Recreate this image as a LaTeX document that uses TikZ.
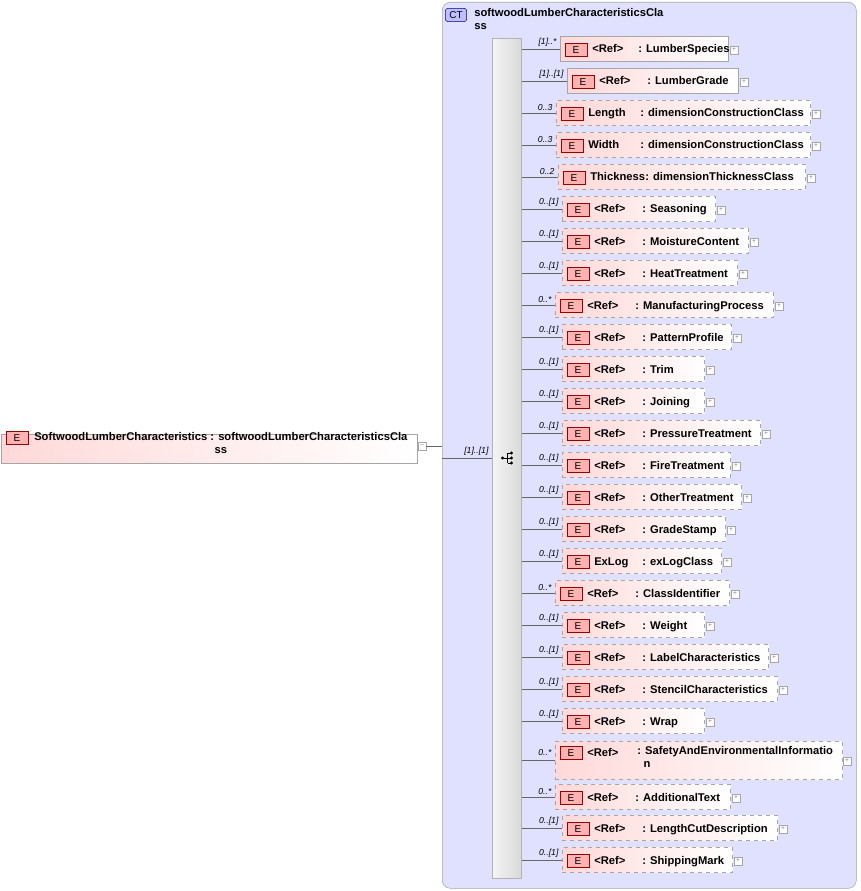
\documentclass[tikz,border=0pt]{standalone}
\usepackage{fontspec}
\setmainfont{Liberation Sans}
\begin{document}
\begin{tikzpicture}[x=0.75pt,y=-0.75pt,
  font=\fontsize{8.4}{10}\selectfont\bfseries,
  elem/.style={draw=gray!70,left color=red!15,right color=white,inner sep=0,minimum height=19pt,anchor=west},
  opt/.style={elem,dashed},
  ebox/.style={draw=red!60!black,fill=red!30,minimum width=16.5pt,minimum height=10pt,inner sep=0,font=\fontsize{7.5}{8}\selectfont\mdseries},
  pls/.style={draw=gray!70,fill=white,minimum size=6pt,inner sep=0,font=\fontsize{5}{5}\selectfont\color{gray}},
  mult/.style={font=\fontsize{6.5}{7}\selectfont\itshape\mdseries,anchor=south east,inner sep=1pt},
  conn/.style={draw=gray!80!black}]
\useasboundingbox (0,0) rectangle (860,891);
\node[draw=gray!70,fill=blue!12,rounded corners=6pt,minimum width=310.5pt,minimum height=664.5pt,anchor=north west,inner sep=0] (ct) at (442,2) {};
\node[draw=blue!50!black,fill=blue!25,rounded corners=2pt,minimum width=16pt,minimum height=10pt,inner sep=0,font=\fontsize{7.5}{8}\selectfont\mdseries] (cti) at (456,15) {CT};
\node[anchor=north west,align=left,inner sep=0] (ctt) at (474,8) {softwoodLumberCharacteristicsCla\\ss};
\node[draw=gray!60,left color=gray!8,right color=gray!30,minimum width=21.75pt,minimum height=630pt,anchor=north west,inner sep=0] (seq) at (492,38) {};
\node[inner sep=0] (seqi) at (507,458) {\tikz[x=0.75pt,y=-0.75pt]{\fill (0,0) circle (1.6);\draw (0,0)--(5,0) (5,-5)--(5,5) (5,-5)--(9,-5) (5,0)--(9,0) (5,5)--(9,5);\fill (9,-5) circle (1.6) (9,0) circle (1.6) (9,5) circle (1.6);}};
\node[elem,minimum width=312pt,minimum height=22pt,anchor=north west] (root) at (1,434) {};
\node[ebox] (rooti) at (17,438) {E};
\node[anchor=north west,align=center,inner sep=0] (roott) at (34,432) {SoftwoodLumberCharacteristics : softwoodLumberCharacteristicsCla\\ss};
\node[pls] (rootm) at (422,446) {--};
\coordinate (ce) at (442,446);
\draw[conn] (rootm.east) -- (ce);
\coordinate (rj) at (442,458);
\draw[conn] (rj) -- (seq.west |- rj);
\node[mult] (rm) at (490,457) {[1]..[1]};
\foreach \n/\y/\l/\r/\st/\m/\a/\b/\o in {
 1/49/560/728/elem/{[1]..*}/{<Ref>}/{: LumberSpecies}/78,
 2/81/567/738/elem/{[1]..[1]}/{<Ref>}/{: LumberGrade}/80,
 3/113/556/810/opt/{0..3}/{Length}/{: dimensionConstructionClass}/84,
 4/145/556/810/opt/{0..3}/{Width}/{: dimensionConstructionClass}/84,
 5/177/558/805/opt/{0..2}/{Thickness}/{: dimensionThicknessClass}/87,
 6/209/562/715/opt/{0..[1]}/{<Ref>}/{: Seasoning}/80,
 7/241/562/748/opt/{0..[1]}/{<Ref>}/{: MoistureContent}/80,
 8/273/562/737/opt/{0..[1]}/{<Ref>}/{: HeatTreatment}/80,
 9/305/555/773/opt/{0..*}/{<Ref>}/{: ManufacturingProcess}/80,
 10/337/562/731/opt/{0..[1]}/{<Ref>}/{: PatternProfile}/80,
 11/369/562/704/opt/{0..[1]}/{<Ref>}/{: Trim}/80,
 12/401/562/704/opt/{0..[1]}/{<Ref>}/{: Joining}/80,
 13/433/562/760/opt/{0..[1]}/{<Ref>}/{: PressureTreatment}/80,
 14/465/562/730/opt/{0..[1]}/{<Ref>}/{: FireTreatment}/80,
 15/497/562/741/opt/{0..[1]}/{<Ref>}/{: OtherTreatment}/80,
 16/529/562/725/opt/{0..[1]}/{<Ref>}/{: GradeStamp}/80,
 17/561/562/721/opt/{0..[1]}/{ExLog}/{: exLogClass}/80,
 18/593/555/729/opt/{0..*}/{<Ref>}/{: ClassIdentifier}/80,
 19/625/562/704/opt/{0..[1]}/{<Ref>}/{: Weight}/80,
 20/657/562/768/opt/{0..[1]}/{<Ref>}/{: LabelCharacteristics}/80,
 21/689/562/777/opt/{0..[1]}/{<Ref>}/{: StencilCharacteristics}/80,
 22/721/562/704/opt/{0..[1]}/{<Ref>}/{: Wrap}/80,
 24/797/555/730/opt/{0..*}/{<Ref>}/{: AdditionalText}/80,
 25/828/562/777/opt/{0..[1]}/{<Ref>}/{: LengthCutDescription}/80,
 26/860/562/732/opt/{0..[1]}/{<Ref>}/{: ShippingMark}/80} {
  \pgfmathsetmacro\w{(\r-\l)*0.75}
  \node[\st,minimum width=\w pt] (b\n) at (\l,\y) {};
  \node[ebox] (i\n) at (\l+16,\y+1) {E};
  \node[anchor=base west,inner sep=0] (t\n) at (\l+32,\y+4) {\a};
  \node[anchor=base west,inner sep=0] (c\n) at (\l+\o,\y+4) {\b};
  \node[pls] (p\n) at (\r+6,\y+1) {+};
  \coordinate (s\n) at (seq.east |- b\n.west);
  \draw[conn] (s\n) -- (b\n.west);
  \node[mult] (m\n) at (\l-2,\y-1) {\m};
}
\node[opt,minimum width=215.25pt,minimum height=28.5pt] (b23) at (555,760) {};
\node[ebox] (i23) at (571,753) {E};
\node[anchor=base west,inner sep=0] (t23) at (587,756) {<Ref>};
\node[anchor=north west,align=left,inner sep=0] (c23) at (637,746) {: SafetyAndEnvironmentalInformatio\\\ \ n};
\node[pls] (p23) at (847,761) {+};
\coordinate (s23) at (seq.east |- b23.west);
\draw[conn] (s23) -- (b23.west);
\node[mult] (m23) at (553,757) {0..*};
\end{tikzpicture}
\end{document}
